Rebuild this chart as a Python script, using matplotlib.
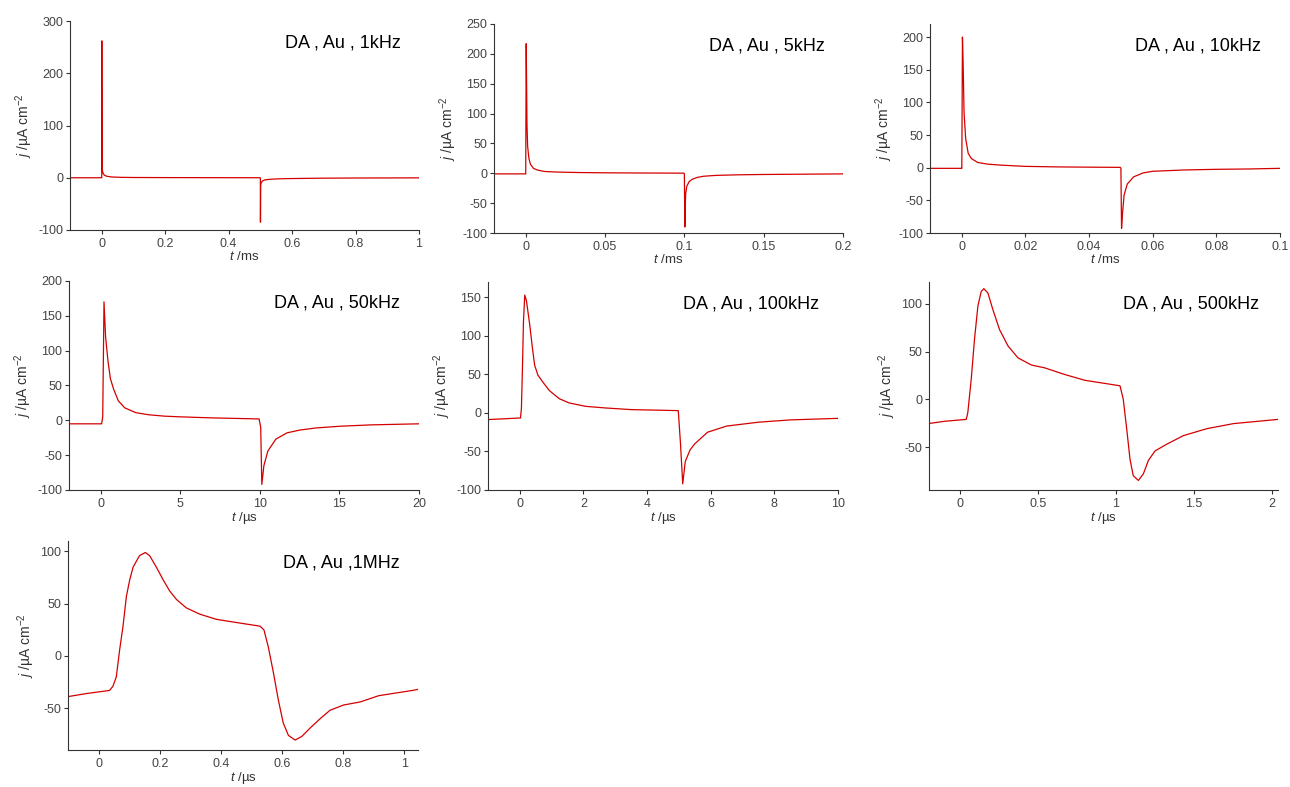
import numpy as np
import matplotlib
matplotlib.use('Agg')
import matplotlib.pyplot as plt
from matplotlib.ticker import FuncFormatter

plt.rcParams['font.family'] = ['Liberation Sans', 'DejaVu Sans']
plt.rcParams['mathtext.fontset'] = 'custom'
plt.rcParams['mathtext.rm'] = 'Liberation Sans'
plt.rcParams['mathtext.it'] = 'Liberation Sans:italic'

# 1 kHz, t in ms
t_1k = [-0.1, -0.0005, 0.0, 0.0003, 0.001, 0.002, 0.004, 0.008, 0.015, 0.03, 0.06, 0.1, 0.2, 0.3, 0.4,
        0.4995, 0.5, 0.5003, 0.501, 0.503, 0.507, 0.515, 0.53, 0.56, 0.6, 0.7, 0.8, 1.0]
j_1k = [0, 0, 0, 262, 25, 14, 9, 5, 3, 1.5, 0.8, 0.5, 0.3, 0.2, 0.1,
        0, -2, -85, -14, -9, -6, -4, -3, -2, -1.5, -0.8, -0.5, -0.2]

# 5 kHz, t in ms
t_5k = [-0.02, -0.0003, 0.0, 0.0003, 0.0008, 0.0012, 0.002, 0.003, 0.005, 0.008, 0.012, 0.02, 0.035,
        0.05, 0.07, 0.0997, 0.1, 0.1003, 0.1008, 0.1015, 0.103, 0.105, 0.108, 0.112, 0.12, 0.135, 0.15,
        0.175, 0.2]
j_5k = [-1, -1, -1, 217, 80, 45, 25, 15, 8, 5, 3, 2, 1.2,
        0.8, 0.5, 0.2, -1, -90, -35, -22, -14, -10, -7, -5, -3.5, -2.5, -2,
        -1.5, -1]

# 10 kHz, t in ms
t_10k = [-0.01, -0.0002, 0.0, 0.0002, 0.0004, 0.0007, 0.0012, 0.002, 0.003, 0.005, 0.008, 0.012, 0.02,
         0.03, 0.04, 0.0498, 0.05, 0.0502, 0.0505, 0.051, 0.052, 0.054, 0.057, 0.06, 0.07, 0.08, 0.09, 0.1]
j_10k = [-1, -1, -1, 200, 163, 85, 45, 22, 14, 8, 5.5, 4, 2,
         1.2, 0.8, 0.5, -1, -93, -70, -42, -25, -14, -8, -5.5, -3.5, -2.5, -2, -1]

# 50 kHz, t in us
t_50k = [-2, 0.05, 0.12, 0.2, 0.3, 0.45, 0.6, 0.8, 1.1, 1.5, 2.2, 3, 4, 5, 7, 9, 9.95,
         10.05, 10.12, 10.25, 10.5, 11, 11.7, 12.5, 13.5, 15, 17, 20]
j_50k = [-5, -5, 5, 170, 120, 85, 60, 45, 28, 18, 11, 8, 6, 5, 3.5, 2.5, 2,
         -10, -92, -65, -44, -27, -18, -14, -11, -8.5, -6.5, -5]

# 100 kHz, t in us
t_100k = [-1, 0.02, 0.05, 0.083, 0.114, 0.155, 0.207, 0.31, 0.394, 0.466, 0.57, 0.725, 0.93, 1.24,
          1.55, 2.07, 2.69, 3.52, 4.5, 4.98, 5.05, 5.12, 5.2, 5.35, 5.5, 5.9, 6.5, 7.5, 8.5, 10]
j_100k = [-8.6, -6.5, 5.6, 59, 118, 153, 146, 115, 85, 62, 49, 40, 29, 18.5,
          13, 8.6, 6.5, 4.3, 3.5, 3, -40, -92, -63, -48, -40, -25, -17, -12, -9, -7]

# 500 kHz, t in us
t_500k = [-0.204, -0.101, 0.039, 0.049, 0.071, 0.092, 0.114, 0.135, 0.152, 0.178, 0.21, 0.253, 0.307,
          0.371, 0.457, 0.543, 0.672, 0.8, 0.929, 1.026, 1.047, 1.069, 1.09, 1.111, 1.144, 1.176,
          1.208, 1.251, 1.326, 1.433, 1.584, 1.755, 2.04]
j_500k = [-25.4, -23, -21, -14, 21, 63, 98, 113, 116, 111.5, 94, 73, 56,
          43.5, 36, 33, 26, 20, 16.7, 14.2, 0, -31, -62.7, -80, -85, -78,
          -64, -54, -47, -38, -30.7, -25.4, -21]

# 1 MHz, t in us
t_1M = [-0.102, -0.04, 0.036, 0.047, 0.058, 0.069, 0.08, 0.091, 0.102, 0.113, 0.134, 0.153, 0.167,
        0.189, 0.211, 0.233, 0.255, 0.287, 0.331, 0.386, 0.451, 0.528, 0.541, 0.555, 0.572, 0.588,
        0.604, 0.621, 0.643, 0.665, 0.692, 0.725, 0.757, 0.801, 0.856, 0.917, 1.027, 1.045]
j_1M = [-39, -36, -33, -29, -20, 6, 28.5, 57, 73, 85, 96, 99, 96,
        85, 73, 62, 54, 46, 40, 35, 32, 28.5, 25, 9, -16, -42,
        -64, -76, -80.5, -77, -69, -60, -52, -47, -44, -38, -33, -32]

labels = ['DA , Au , 1kHz', 'DA , Au , 5kHz', 'DA , Au , 10kHz', 'DA , Au , 50kHz',
          'DA , Au , 100kHz', 'DA , Au , 500kHz', 'DA , Au ,1MHz']
units = ['ms', 'ms', 'ms', 'µs', 'µs', 'µs', 'µs']
xlims = [(-0.1, 1.0), (-0.02, 0.2), (-0.01, 0.1), (-2, 20), (-1, 10), (-0.2, 2.04), (-0.1, 1.045)]
ylims = [(-100, 300), (-100, 250), (-100, 220), (-100, 200), (-100, 170), (-95, 123), (-90, 110)]
xticks = [np.arange(0, 1.01, 0.2), np.arange(0, 0.201, 0.05), np.arange(0, 0.101, 0.02),
          np.arange(0, 21, 5), np.arange(0, 11, 2), np.arange(0, 2.01, 0.5), np.arange(0, 1.01, 0.2)]
yticks = [np.arange(-100, 301, 100), np.arange(-100, 251, 50), np.arange(-100, 201, 50),
          np.arange(-100, 201, 50), np.arange(-100, 151, 50), np.arange(-50, 101, 50),
          np.arange(-50, 101, 50)]
series = [(t_1k, j_1k), (t_5k, j_5k), (t_10k, j_10k), (t_50k, j_50k),
          (t_100k, j_100k), (t_500k, j_500k), (t_1M, j_1M)]

# axes boxes in pixels: left, top, right, bottom
W, H = 1290, 787
boxes = [(70, 21, 419, 230), (494, 24, 843, 233), (930, 24, 1280, 233),
         (69, 281, 419, 490), (488, 282, 838, 490), (929, 282, 1278, 490),
         (68, 541, 418, 750)]

fmt = FuncFormatter(lambda v, p: '%g' % round(v, 6))

fig = plt.figure(figsize=(W / 100, H / 100), dpi=100)
for i, (t, j) in enumerate(series):
    l, tp, r, b = boxes[i]
    ax = fig.add_axes([l / W, 1 - b / H, (r - l) / W, (b - tp) / H])
    ax.plot(t, j, color='#d40000', lw=0.9)
    ax.set_xlim(*xlims[i])
    ax.set_ylim(*ylims[i])
    ax.set_xticks(xticks[i])
    ax.set_yticks(yticks[i])
    ax.xaxis.set_major_formatter(fmt)
    ax.yaxis.set_major_formatter(fmt)
    for s in ['top', 'right']:
        ax.spines[s].set_visible(False)
    for s in ['left', 'bottom']:
        ax.spines[s].set_color('#333333')
        ax.spines[s].set_linewidth(0.8)
    ax.tick_params(direction='out', length=3, width=0.8, color='#333333',
                   labelsize=9, labelcolor='#444444')
    ax.tick_params(axis='x', pad=3)
    ax.tick_params(axis='y', pad=2)
    ax.set_xlabel('$t$ /' + units[i], fontsize=9.5, color='#333333', labelpad=0)
    ax.set_ylabel('$j$ /µA cm$^{-2}$', fontsize=10, color='#333333', labelpad=2)
    ax.text(0.947, 0.895, labels[i], transform=ax.transAxes, ha='right', va='center',
            fontsize=13, color='black')

fig.savefig('out.png', dpi=100)
